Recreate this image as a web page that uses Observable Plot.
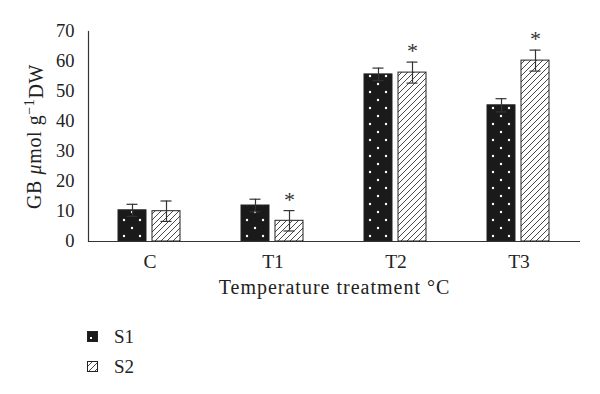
<!DOCTYPE html>
<html><head><meta charset="utf-8">
<script src="https://cdn.jsdelivr.net/npm/d3@7"></script>
<script src="https://cdn.jsdelivr.net/npm/@observablehq/plot@0.6"></script>
<style>
body{margin:0;background:#fff;font-family:"Liberation Serif",serif;}
#chart svg{display:block;}
#legend{position:relative;height:94px;width:600px;}
.item{display:flex;align-items:center;position:absolute;left:87px;font-size:19px;color:#222;line-height:1;}
.item svg{margin-right:16px;display:block;}
</style></head><body>
<div id="chart"></div>
<div id="legend"></div>
<script>
const categories = ["C", "T1", "T2", "T3"];
const series = ["S1", "S2"];
const s1Values = [10.4, 12.0, 55.7, 45.4];
const s1Errors = [2.0, 2.1, 2.1, 2.2];
const s2Values = [10.1, 6.9, 56.3, 60.3];
const s2Errors = [3.4, 3.4, 3.5, 3.5];
const s2Significant = [false, true, true, true];
const yTicks = [0, 10, 20, 30, 40, 50, 60, 70];

const rows = [];
categories.forEach((c, i) => {
  rows.push({category: c, series: "S1", value: s1Values[i], err: s1Errors[i], sig: false});
  rows.push({category: c, series: "S2", value: s2Values[i], err: s2Errors[i], sig: s2Significant[i]});
});

const ink = "#222";
const plot = Plot.plot({
  width: 600, height: 300,
  marginLeft: 88, marginRight: 20, marginTop: 31, marginBottom: 59,
  style: {fontFamily: "'Liberation Serif', serif", color: ink, background: "#fff", overflow: "visible"},
  fx: {domain: categories, padding: 0},
  x: {domain: series, axis: null, paddingInner: 0.174, paddingOuter: 0.87},
  y: {domain: [0, 70]},
  color: {domain: series, range: ["url(#dots)", "url(#hatch)"]},
  marks: [
    Plot.axisY({ticks: yTicks, tickSize: 0, tickPadding: 14, fontSize: 18.5,
      label: "GB μmol g⁻¹DW", labelAnchor: "center", labelOffset: 62, labelArrow: "none"}),
    Plot.axisFx({anchor: "bottom", tickSize: 0, tickPadding: 13, fontSize: 19.5,
      label: "Temperature treatment °C", labelAnchor: "center", labelOffset: 52, labelArrow: "none"}),
    Plot.barY(rows, {fx: "category", x: "series", y: "value", fill: "series", stroke: ink, strokeWidth: 1}),
    Plot.ruleX(rows, {fx: "category", x: "series", y1: d => d.value - d.err, y2: d => d.value + d.err, stroke: "#333", strokeWidth: 1.2}),
    Plot.tickY(rows, {fx: "category", x: "series", y: d => d.value + d.err, insetLeft: 8.5, insetRight: 8.5, stroke: "#333", strokeWidth: 1.2}),
    Plot.tickY(rows, {fx: "category", x: "series", y: d => d.value - d.err, insetLeft: 8.5, insetRight: 8.5, stroke: "#333", strokeWidth: 1.2}),
    Plot.text(rows.filter(d => d.sig), {fx: "category", x: "series", y: d => d.value + d.err, text: () => "*", dy: -4, lineAnchor: "bottom", fontSize: 22, fill: "#333"}),
    Plot.ruleY([0], {stroke: "#333", strokeWidth: 1.2}),
    Plot.frame({anchor: "left", facet: "super", stroke: "#333", strokeWidth: 1.2})
  ]
});

const svg = d3.select(plot);
const defs = svg.insert("defs", ":first-child");
const dots = defs.append("pattern").attr("id", "dots").attr("patternUnits", "userSpaceOnUse").attr("width", 16).attr("height", 16);
dots.append("rect").attr("width", 16).attr("height", 16).attr("fill", "#1a1a1a");
dots.append("circle").attr("cx", 4).attr("cy", 4).attr("r", 1.2).attr("fill", "#fff");
dots.append("circle").attr("cx", 12).attr("cy", 12).attr("r", 1.2).attr("fill", "#fff");
const hatch = defs.append("pattern").attr("id", "hatch").attr("patternUnits", "userSpaceOnUse").attr("width", 6).attr("height", 6);
hatch.append("rect").attr("width", 6).attr("height", 6).attr("fill", "#fff");
hatch.append("path").attr("d", "M0,6L6,0M-1,1L1,-1M5,7L7,5").attr("stroke", "#333").attr("stroke-width", 0.9);

// style labels: italic mu, superscript, wider tracking
svg.selectAll("text").each(function() {
  const t = d3.select(this);
  if (t.text() === "GB μmol g⁻¹DW") {
    t.text(null).attr("font-size", 20).attr("letter-spacing", 0.6);
    t.append("tspan").text("GB ");
    t.append("tspan").attr("font-style", "italic").text("μ");
    t.append("tspan").text("mol g");
    t.append("tspan").attr("dy", "-0.45em").attr("font-size", "0.7em").text("−1");
    t.append("tspan").attr("dy", "0.45em").text("DW");
  } else if (t.text() === "Temperature treatment °C") {
    t.attr("font-size", 20).attr("letter-spacing", 1);
  }
});

document.getElementById("chart").appendChild(plot);

const legend = d3.select("#legend");
const swatchFills = ["#1a1a1a", "url(#hatch)"];
series.forEach((s, i) => {
  const item = legend.append("div").attr("class", "item").style("top", (i === 0 ? 27 : 57) + "px");
  const sw = item.append("svg").attr("width", 11).attr("height", 11);
  sw.append("rect").attr("x", 0.5).attr("y", 0.5).attr("width", 10).attr("height", 10).attr("fill", swatchFills[i]).attr("stroke", ink);
  if (i === 0) sw.append("rect").attr("x", 3).attr("y", 6).attr("width", 2).attr("height", 2).attr("fill", "#fff");
  item.append("span").text(s);
});
</script>
</body></html>
